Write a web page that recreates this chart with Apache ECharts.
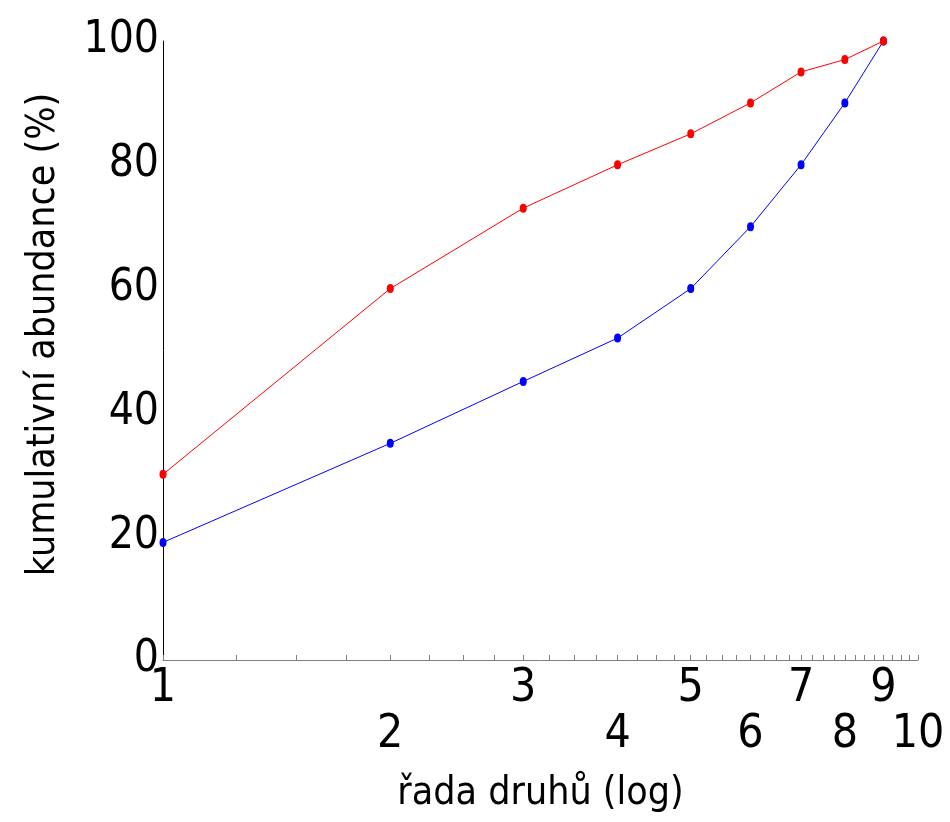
<!DOCTYPE html>
<html>
<head>
<meta charset="utf-8">
<script src="https://cdn.jsdelivr.net/npm/echarts@6/dist/echarts.min.js"></script>
<style>
  html, body { margin: 0; padding: 0; background: #fff; }
  #chart { width: 950px; height: 822px; }
</style>
</head>
<body>
<div id="chart"></div>
<script>
// pořadí druhů a kumulativní abundance (%)
const rank = [1, 2, 3, 4, 5, 6, 7, 8, 9];
const redValues = [30, 60, 73, 80, 85, 90, 95, 97, 100];
const blueValues = [19, 35, 45, 52, 60, 70, 80, 90, 100];
const xTickLabels = [1, 2, 3, 4, 5, 6, 7, 8, 9, 10];
const yTickLabels = [0, 20, 40, 60, 80, 100];

const font = '"DejaVu Sans Condensed", "Liberation Sans", Arial, sans-serif';

// popisky ve dvou řadách: liché nahoře, sudé dole
const xLabelsTop = xTickLabels.filter((v) => v % 2 === 1);
const xLabelsBottom = xTickLabels.filter((v) => v % 2 === 0);

// drobné značky na ose x po 0.25
const xMinorTicks = [];
for (let v = 1; v <= 10.0001; v += 0.25) {
  xMinorTicks.push(Math.round(v * 100) / 100);
}

const chart = echarts.init(document.getElementById('chart'));

const toPairs = (vals) => rank.map((r, i) => [r, vals[i]]);

const labelStyle = {
  show: true,
  interval: 0,
  showMinLabel: true,
  showMaxLabel: true,
  hideOverlap: false,
  fontFamily: font,
  fontSize: 46,
  color: '#000',
  formatter: (val) => String(Math.round(val)),
};

const option = {
  backgroundColor: '#fff',
  animation: false,
  grid: {
    left: 163,
    right: 32,
    top: 41,
    bottom: 162,
    containLabel: false,
    outerBoundsMode: 'none',
  },
  xAxis: [
    {
      type: 'log',
      logBase: 10,
      min: 1,
      max: 10,
      position: 'bottom',
      name: 'řada druhů (log)',
      nameLocation: 'middle',
      nameGap: 114,
      nameTextStyle: {
        fontFamily: font,
        fontSize: 39,
        color: '#000',
      },
      axisLine: {
        onZero: false,
        lineStyle: { color: '#808080', width: 1 },
      },
      axisTick: {
        show: true,
        inside: true,
        length: 5,
        customValues: xMinorTicks,
        lineStyle: { color: '#808080', width: 1 },
      },
      axisLabel: Object.assign({}, labelStyle, {
        customValues: xLabelsTop,
        margin: 6,
      }),
      splitLine: { show: false },
      minorTick: { show: false },
    },
    {
      type: 'log',
      logBase: 10,
      min: 1,
      max: 10,
      position: 'bottom',
      offset: 0,
      axisLine: { show: false, onZero: false },
      axisTick: { show: false },
      axisLabel: Object.assign({}, labelStyle, {
        customValues: xLabelsBottom,
        margin: 52,
      }),
      splitLine: { show: false },
      minorTick: { show: false },
    },
  ],
  yAxis: {
    type: 'value',
    min: 0,
    max: 100,
    interval: 20,
    name: 'kumulativní abundance (%)',
    nameLocation: 'middle',
    nameGap: 100,
    nameRotate: 90,
    nameTextStyle: {
      fontFamily: font,
      fontSize: 39,
      color: '#000',
      padding: [0, 0, 0, 32],
    },
    axisLine: {
      show: true,
      lineStyle: { color: '#000', width: 1 },
    },
    axisTick: { show: false },
    axisLabel: {
      margin: 4,
      fontFamily: font,
      fontSize: 44,
      color: '#000',
      customValues: yTickLabels,
    },
    splitLine: { show: false },
  },
  series: [
    {
      name: 'modrá',
      type: 'line',
      xAxisIndex: 0,
      data: toPairs(blueValues),
      symbol: 'circle',
      symbolSize: [7, 9],
      showAllSymbol: true,
      lineStyle: { color: '#0000ff', width: 1 },
      itemStyle: { color: '#0000ff' },
      clip: true,
    },
    {
      name: 'červená',
      type: 'line',
      xAxisIndex: 0,
      data: toPairs(redValues),
      symbol: 'circle',
      symbolSize: [7, 9],
      showAllSymbol: true,
      lineStyle: { color: '#ff0000', width: 1 },
      itemStyle: { color: '#ff0000' },
      clip: true,
    },
  ],
};

chart.setOption(option);
</script>
</body>
</html>
